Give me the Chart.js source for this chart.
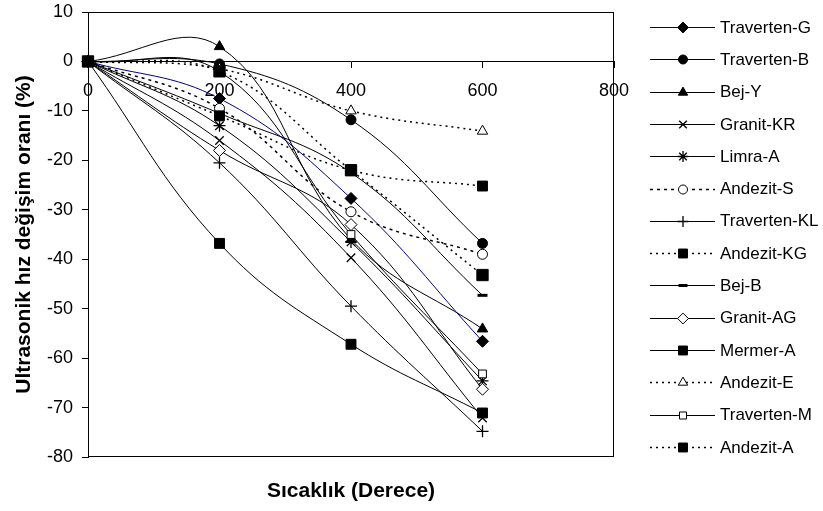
<!DOCTYPE html>
<html><head><meta charset="utf-8">
<script src="https://cdn.jsdelivr.net/npm/chart.js@4.4.0/dist/chart.umd.min.js"></script>
<style>html,body{margin:0;padding:0;background:#fff}#wrap{width:823px;height:511px;position:relative}</style>
</head><body><div id="wrap"><canvas id="c" width="823" height="511"></canvas></div>
<script>
// ---- data ----
const temperatures = [0, 200, 400, 600];
const xTickValues = [0, 200, 400, 600, 800];
const yTickValues = [10, 0, -10, -20, -30, -40, -50, -60, -70, -80];
const seriesNames = ['Traverten-G','Traverten-B','Bej-Y','Granit-KR','Limra-A','Andezit-S','Traverten-KL','Andezit-KG','Bej-B','Granit-AG','Mermer-A','Andezit-E','Traverten-M','Andezit-A'];
const travertenG  = [0, -7.5, -27.7, -56.6];
const travertenB  = [0, -0.5, -11.8, -36.8];
const bejY        = [0, 3.0, -36.0, -54.1];
const granitKR    = [0, -16.0, -39.7, -72.1];
const limraA      = [0, -13.0, -36.5, -64.6];
const andezitS    = [0, -9.5, -30.4, -39.0];
const travertenKL = [0, -20.5, -49.5, -74.8];
const andezitKG   = [0, -11.0, -22.0, -25.2];
const bejB        = [0, -10.5, -22.5, -47.3];
const granitAG    = [0, -18.0, -33.0, -66.3];
const mermerA     = [0, -36.8, -57.2, -71.1];
const andezitE    = [0, -1.5, -10.0, -14.1];
const travertenM  = [0, -2.0, -35.0, -63.2];
const andezitA    = [0, -2.0, -22.0, -43.2];
const seriesValues = [travertenG, travertenB, bejY, granitKR, limraA, andezitS, travertenKL, andezitKG, bejB, granitAG, mermerA, andezitE, travertenM, andezitA];

// ---- styles ----
const FONT = "'Liberation Sans', Arial, Helvetica, sans-serif";
const styles = [
  {color:'#000080', dash:[], ps:'rectRot', r:6, fill:'#000', bw:1},
  {color:'#000', dash:[], ps:'circle', r:5, fill:'#000', bw:1},
  {color:'#000', dash:[], ps:'triangle', r:6, fill:'#000', bw:1},
  {color:'#000', dash:[], ps:'crossRot', r:6, fill:'#000', bw:1.3},
  {color:'#000', dash:[], ps:'star', r:6, fill:'#000', bw:1.3},
  {color:'#000', dash:[3,4], ps:'circle', r:5, fill:'#fff', bw:1, lw:1.5},
  {color:'#000', dash:[], ps:'cross', r:6, fill:'#000', bw:1.3},
  {color:'#000', dash:[2,4], ps:'rect', r:7, fill:'#000', bw:1, lw:1.5},
  {color:'#000', dash:[], ps:'line', r:5, fill:'#000', bw:3},
  {color:'#000', dash:[], ps:'rectRot', r:6, fill:'#fff', bw:1},
  {color:'#000', dash:[], ps:'rect', r:7, fill:'#000', bw:1},
  {color:'#000', dash:[2,4], ps:'triangle', r:6, fill:'#fff', bw:1, lw:1.5},
  {color:'#000', dash:[], ps:'rect', r:5.5, fill:'#fff', bw:1},
  {color:'#000', dash:[2,4], ps:'rect', r:8, fill:'#000', bw:1, lw:1.5}
];

const N = seriesNames.length;
const datasets = seriesNames.map((name, i) => {
  const s = styles[i];
  return {
    label: name,
    data: temperatures.map((t, k) => ({x: t, y: seriesValues[i][k]})),
    borderColor: s.color,
    borderWidth: s.lw || 1,
    borderDash: s.dash,
    tension: 0.4,
    fill: false,
    clip: false,
    pointStyle: s.ps,
    pointRadius: s.r,
    pointBackgroundColor: s.fill,
    pointBorderColor: '#000',
    pointBorderWidth: s.bw,
    order: N - i
  };
});

const decor = {
  id: 'decor',
  beforeDatasetsDraw(chart) {
    const {ctx, chartArea: a} = chart;
    ctx.save();
    ctx.strokeStyle = '#000';
    ctx.lineWidth = 1;
    ctx.strokeRect(a.left + 0.5, a.top + 0.5, a.right - a.left - 1, a.bottom - a.top - 1);
    ctx.restore();
  },
  afterDraw(chart) {
    const {ctx, chartArea: a} = chart;
    ctx.save();
    ctx.fillStyle = '#000';
    ctx.font = 'bold 21px ' + FONT;
    ctx.textAlign = 'center';
    ctx.textBaseline = 'middle';
    ctx.fillText('Sıcaklık (Derece)', (a.left + a.right) / 2, 491);
    ctx.save();
    ctx.translate(24, (a.top + a.bottom) / 2);
    ctx.rotate(-Math.PI / 2);
    ctx.fillText('Ultrasonik hız değişim oranı (%)', 0, 0);
    ctx.restore();
    // legend
    ctx.font = '17px ' + FONT;
    ctx.textAlign = 'left';
    for (let i = 0; i < N; i++) {
      const s = styles[i];
      const y = 27 + i * 32.3;
      ctx.save();
      ctx.strokeStyle = s.color;
      ctx.lineWidth = s.lw || 1;
      ctx.setLineDash(s.dash);
      ctx.beginPath();
      ctx.moveTo(650, Math.round(y) + 0.5);
      ctx.lineTo(715, Math.round(y) + 0.5);
      ctx.stroke();
      ctx.setLineDash([]);
      ctx.fillStyle = s.fill;
      ctx.strokeStyle = '#000';
      ctx.lineWidth = s.bw;
      Chart.helpers.drawPoint(ctx, {pointStyle: s.ps, radius: Math.min(s.r, 7) * 0.9, rotation: 0, borderWidth: s.bw}, 683, Math.round(y) + 0.5);
      ctx.restore();
      ctx.fillStyle = '#000';
      ctx.fillText(seriesNames[i], 720, y + 1);
    }
    ctx.restore();
  }
};

new Chart(document.getElementById('c'), {
  type: 'line',
  data: { datasets },
  options: {
    responsive: false,
    animation: false,
    devicePixelRatio: 1,
    layout: { padding: { left: 0, top: 12, right: 209, bottom: 0 } },
    plugins: { legend: { display: false }, tooltip: { enabled: false } },
    scales: {
      x: {
        type: 'linear', position: { y: 0 }, min: 0, max: 800,
        afterBuildTicks(s) { s.ticks = xTickValues.map(v => ({value: v})); },
        ticks: { color: '#000', font: { size: 18, family: FONT }, padding: 13, maxRotation: 0 },
        grid: { drawOnChartArea: false, drawTicks: true, tickLength: 6, color: '#000' },
        border: { display: true, color: '#000', width: 1 },
        afterFit(s) { s.paddingLeft = 0; s.paddingRight = 0; }
      },
      x2: {
        type: 'linear', position: 'bottom', min: 0, max: 800,
        ticks: { display: false },
        grid: { display: false, drawTicks: false },
        border: { display: false },
        afterFit(s) { s.height = 54; }
      },
      y: {
        type: 'linear', position: 'left', min: -80, max: 10,
        afterBuildTicks(s) { s.ticks = yTickValues.map(v => ({value: v})); },
        ticks: { color: '#000', font: { size: 18, family: FONT }, padding: 9 },
        grid: { drawOnChartArea: false, drawTicks: true, tickLength: 6, color: '#000' },
        border: { display: true, color: '#000', width: 1 },
        afterFit(s) { s.width = 88; s.paddingTop = 0; s.paddingBottom = 0; }
      }
    }
  },
  plugins: [decor]
});
</script>
</body></html>
